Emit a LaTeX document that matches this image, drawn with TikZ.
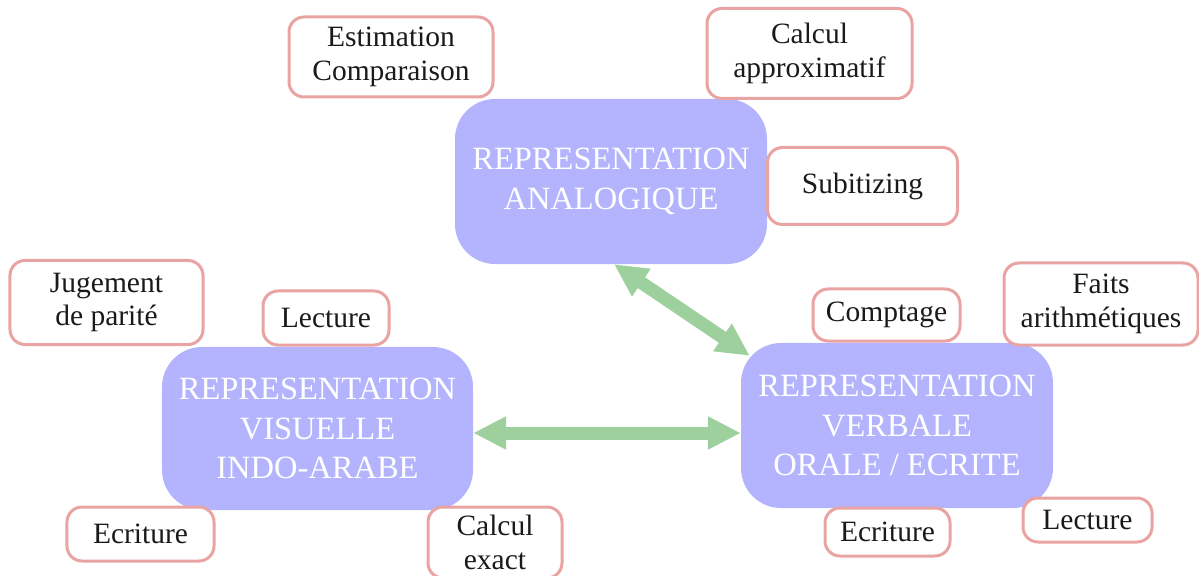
\documentclass[tikz,border=0pt]{standalone}
\usepackage{fontspec}
\setmainfont{Liberation Serif}
\usetikzlibrary{arrows.meta,calc}
\definecolor{bigfill}{HTML}{B4B4FE}
\definecolor{arrgreen}{HTML}{9DD09D}
\definecolor{pinkline}{HTML}{E9A3A3}
\definecolor{txt}{HTML}{1A1A1A}
\tikzset{
  bigbox/.style={rounded corners=40bp, fill=bigfill, draw=none, text=white,
    align=center, inner sep=0pt,
    font=\fontsize{32.5bp}{39.5bp}\selectfont},
  smallbox/.style={rounded corners=15bp, draw=pinkline, line width=3bp, fill=white,
    text=txt, align=center, inner sep=0pt,
    font=\fontsize{29.5bp}{33.5bp}\selectfont},
  biarrow/.style={draw=arrgreen, line width=13bp,
    {Triangle[length=33bp,width=31bp]}-{Triangle[length=33bp,width=31bp]}}
}
\begin{document}
\begin{tikzpicture}[x=1bp,y=-1bp]
\useasboundingbox (0,0) rectangle (1199,576);
% big boxes
\node[bigbox, minimum width=312bp, minimum height=165bp] (ana) at (611,181.5)
  {REPRESENTATION\\ANALOGIQUE};
\node[bigbox, minimum width=311bp, minimum height=163bp] (vis) at (317.5,428.5)
  {REPRESENTATION\\VISUELLE\\INDO-ARABE};
\node[bigbox, minimum width=312bp, minimum height=165bp] (ver) at (897,425.5)
  {REPRESENTATION\\VERBALE\\ORALE / ECRITE};
% small boxes
\node[smallbox, minimum width=204bp, minimum height=80bp] (est) at (391,57)
  {Estimation\\Comparaison};
\node[smallbox, minimum width=205bp, minimum height=90bp] (cap) at (809.5,53.5)
  {Calcul\\approximatif};
\node[smallbox, minimum width=190bp, minimum height=77bp] (sub) at (862.5,186)
  {Subitizing};
\node[smallbox, minimum width=193bp, minimum height=84bp] (jug) at (106.5,302.5)
  {Jugement\\de parité};
\node[smallbox, minimum width=126bp, minimum height=54bp] (lecl) at (326,318)
  {Lecture};
\node[smallbox, minimum width=147bp, minimum height=54bp] (ecrl) at (140.5,534)
  {Ecriture};
\node[smallbox, minimum width=134bp, minimum height=71bp] (cex) at (495,542.5)
  {Calcul\\exact};
\node[smallbox, minimum width=147bp, minimum height=52bp] (cpt) at (886.5,315)
  {Comptage};
\node[smallbox, minimum width=194bp, minimum height=82bp] (fai) at (1101,304)
  {Faits\\arithmétiques};
\node[smallbox, minimum width=125bp, minimum height=48bp] (ecrr) at (887.5,532)
  {Ecriture};
\node[smallbox, minimum width=129bp, minimum height=44bp] (lecr) at (1087.5,520)
  {Lecture};
% arrows
\draw[biarrow] ($(ana.south)+(3,0)$) -- ($(ver.north west)+(9,13)$);
\draw[biarrow] ([yshift=-4.5bp]vis.east) -- ([yshift=-4.5bp]vis.east -| ver.west);
\end{tikzpicture}
\end{document}
